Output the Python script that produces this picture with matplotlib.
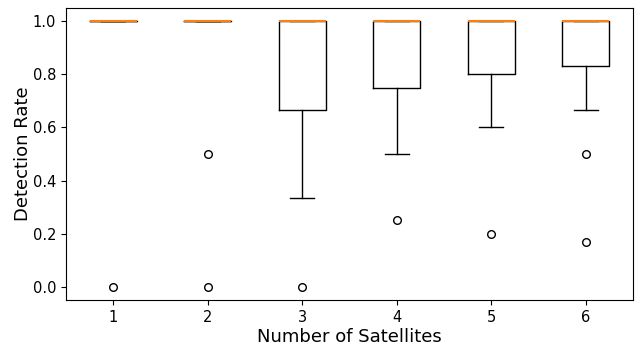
import matplotlib
matplotlib.use("Agg")
import matplotlib.pyplot as plt

labels = ["1", "2", "3", "4", "5", "6"]
medians = [1.0, 1.0, 1.0, 1.0, 1.0, 1.0]
q1 = [1.0, 1.0, 0.667, 0.75, 0.8, 0.833]
q3 = [1.0, 1.0, 1.0, 1.0, 1.0, 1.0]
whisker_low = [1.0, 1.0, 0.333, 0.5, 0.6, 0.667]
whisker_high = [1.0, 1.0, 1.0, 1.0, 1.0, 1.0]
fliers = [[0.0], [0.5, 0.0], [0.0], [0.25], [0.2], [0.5, 0.167]]

stats = []
for i, lab in enumerate(labels):
    stats.append(dict(label=lab, med=medians[i], q1=q1[i], q3=q3[i],
                      whislo=whisker_low[i], whishi=whisker_high[i],
                      fliers=fliers[i]))

fig = plt.figure(figsize=(6.36, 3.48), dpi=100)
ax = fig.add_axes([66/636, 48/348, (633-66)/636, (300-8)/348])
ax.bxp(stats, showfliers=True,
       flierprops=dict(marker="o", markersize=5.5, markerfacecolor="none",
                       markeredgecolor="black"),
       medianprops=dict(color="#ff7f0e", linewidth=1.5))
ax.set_ylim(-0.05, 1.05)
ax.set_yticks([0.0, 0.2, 0.4, 0.6, 0.8, 1.0])
ax.tick_params(labelsize=10.5)
ax.set_xlabel("Number of Satellites", fontsize=13, labelpad=2)
ax.set_ylabel("Detection Rate", fontsize=13, labelpad=0.5)
fig.savefig("out.png", dpi=100)
